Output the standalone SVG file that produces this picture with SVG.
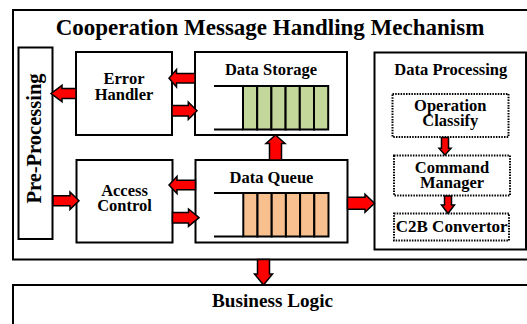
<svg xmlns="http://www.w3.org/2000/svg" width="527" height="324" viewBox="0 0 527 324">
<style>
.box{fill:#fff;stroke:#000;stroke-width:2}
.dot{fill:#fff;stroke:#000;stroke-width:2;stroke-dasharray:1.5 1.2}
.t{font-family:"Liberation Serif","Times New Roman",serif;font-weight:bold;fill:#000;text-anchor:middle}
.lbl{font-size:16.5px}
.arr{fill:#ff0000;stroke:#000;stroke-width:1.5;stroke-linejoin:miter}
.cellg{fill:#c4d79b;stroke:#000;stroke-width:2}
.cello{fill:#f9c08f;stroke:#000;stroke-width:2}
.ql{stroke:#000;stroke-width:2;fill:none}
</style>
<rect width="527" height="324" fill="#fff"/>
<g id="mechanism">
<rect class="box" x="13" y="10" width="520" height="249.5"/>
<text class="t" x="270" y="35" font-size="23">Cooperation Message Handling Mechanism</text>
</g>
<g id="pre-processing">
<rect class="box" x="18.5" y="47.5" width="34" height="191.5"/>
<text class="t" transform="translate(41,138.5) rotate(-90)" font-size="20.5">Pre-Processing</text>
</g>
<g id="error-handler">
<rect class="box" x="76" y="52" width="96" height="83"/>
<text class="t lbl" x="124" y="83.5">Error</text>
<text class="t lbl" x="124" y="99.5">Handler</text>
</g>
<g id="access-control">
<rect class="box" x="76.5" y="160" width="96" height="82.5"/>
<text class="t lbl" x="124.5" y="196">Access</text>
<text class="t lbl" x="124.5" y="211">Control</text>
</g>
<g id="data-storage">
<rect class="box" x="195" y="52" width="152" height="83"/>
<text class="t lbl" x="271" y="75">Data Storage</text>
<path class="ql" d="M214,86H243M214,129.5H243"/>
<rect class="cellg" x="243" y="86" width="14.2" height="43.5"/>
<rect class="cellg" x="257.2" y="86" width="14.2" height="43.5"/>
<rect class="cellg" x="271.4" y="86" width="14.2" height="43.5"/>
<rect class="cellg" x="285.6" y="86" width="14.2" height="43.5"/>
<rect class="cellg" x="299.8" y="86" width="14.2" height="43.5"/>
<rect class="cellg" x="314" y="86" width="14.2" height="43.5"/>
</g>
<g id="data-queue">
<rect class="box" x="195.5" y="160" width="152" height="82.5"/>
<text class="t lbl" x="271.5" y="182.5">Data Queue</text>
<path class="ql" d="M214,193H243.3M214,236.5H243.3"/>
<rect class="cello" x="243.3" y="193" width="14.2" height="43.5"/>
<rect class="cello" x="257.5" y="193" width="14.2" height="43.5"/>
<rect class="cello" x="271.7" y="193" width="14.2" height="43.5"/>
<rect class="cello" x="285.9" y="193" width="14.2" height="43.5"/>
<rect class="cello" x="300.1" y="193" width="14.2" height="43.5"/>
<rect class="cello" x="314.3" y="193" width="14.2" height="43.5"/>
</g>
<g id="data-processing">
<rect class="box" x="374.5" y="52.5" width="151.5" height="197"/>
<text class="t lbl" x="450.8" y="74.5">Data Processing</text>
</g>
<g id="operation-classify">
<rect class="dot" x="392.5" y="94" width="116" height="43"/>
<text class="t lbl" x="450.3" y="111">Operation</text>
<text class="t lbl" x="450.3" y="125.5">Classify</text>
</g>
<g id="command-manager">
<rect class="dot" x="394" y="155.5" width="116" height="40"/>
<text class="t lbl" x="452" y="173">Command</text>
<text class="t lbl" x="452" y="187.5">Manager</text>
</g>
<g id="c2b-convertor">
<rect class="dot" x="394" y="213.5" width="115" height="27"/>
<text class="t" x="451.7" y="231.5" font-size="17">C2B Convertor</text>
</g>
<g id="business-logic">
<rect class="box" x="13" y="285" width="520" height="50"/>
<text class="t" x="272.5" y="306.5" font-size="19.2">Business Logic</text>
</g>
<g id="connectors">
<path class="arr" d="M51,93.5L62,85.3V88.5H76V98.5H62V101.7Z"/>
<path class="arr" d="M169,78.3L176.5,69.5V73.5H195V83H176.5V87Z"/>
<path class="arr" d="M197,110.8L188.3,102V105.5H172V116H188.3V119.5Z"/>
<path class="arr" d="M79,200.7L70,192V195.7H53V205.7H70V209.4Z"/>
<path class="arr" d="M169,185L177,176.5V180.3H195.5V189.7H177V193.5Z"/>
<path class="arr" d="M199,217.7L188.5,209V212.5H172.5V223H188.5V226.4Z"/>
<path class="arr" d="M275.5,135L285,143.5H281.5V160H269.5V143.5H266Z"/>
<path class="arr" d="M374.5,203.3L365,194.3V197.3H347.5V209.3H365V212.3Z"/>
<path class="arr" d="M263.5,285L254.5,274H257.5V259.5H269.5V274H272.5Z"/>
<path class="arr" d="M445,155L439,148.3H441.5V137.5H448.5V148.3H451Z"/>
<path class="arr" d="M448,213.5L441.5,205H444.5V196H451.5V205H454.5Z"/>
</g>
</svg>
